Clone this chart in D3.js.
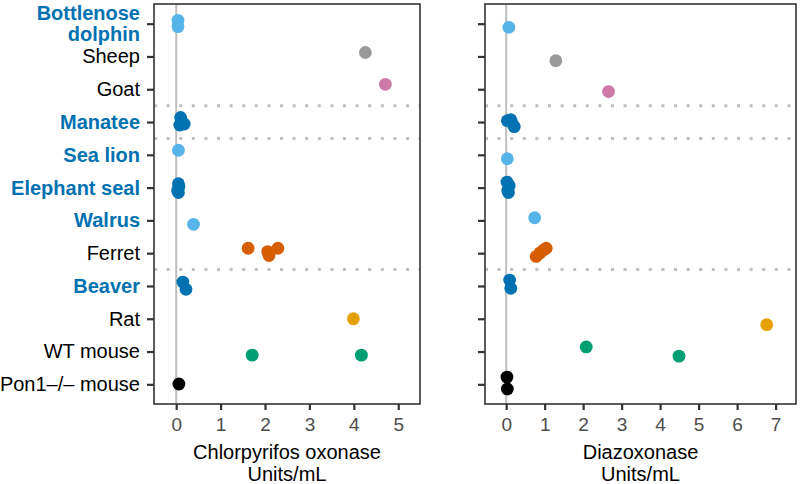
<!DOCTYPE html>
<html><head><meta charset="utf-8">
<script src="https://cdn.jsdelivr.net/npm/d3@7"></script>
<style>body{margin:0;background:#fff}svg{display:block}text{font-family:"Liberation Sans",Arial,Helvetica,sans-serif}</style>
</head><body><svg id="c" width="800" height="484"></svg>
<script>
// categories top to bottom
const species = ["Bottlenose dolphin","Sheep","Goat","Manatee","Sea lion","Elephant seal","Walrus","Ferret","Beaver","Rat","WT mouse","Pon1\u2013/\u2013 mouse"];
const marine = ["Bottlenose dolphin","Manatee","Sea lion","Elephant seal","Walrus","Beaver"];
const speciesColor = ["#56B4E9","#999999","#CC79A7","#0072B2","#56B4E9","#0072B2","#56B4E9","#D55E00","#0072B2","#E69F00","#009E73","#000000"];
// dividers between these category index pairs (after index)
const dividersAfter = [2, 3, 7];
// Chlorpyrifos oxonase: [speciesIndex, value, jitter (category units)]
const cpoData = [
  [0,0.04,-0.10],[0,0.04,0.09],
  [1,4.26,-0.12],
  [2,4.71,-0.15],
  [3,0.10,-0.14],[3,0.12,-0.02],[3,0.08,0.09],[3,0.18,0.06],
  [4,0.05,-0.14],
  [5,0.05,-0.12],[5,0.06,-0.03],[5,0.03,0.09],[5,0.05,0.15],
  [6,0.39,0.12],
  [7,1.62,-0.15],[7,2.06,-0.05],[7,2.09,0.07],[7,2.29,-0.15],
  [8,0.15,-0.12],[8,0.22,0.10],
  [9,3.99,0.0],
  [10,1.71,0.11],[10,4.17,0.11],
  [11,0.06,-0.01]
];
// Diazoxonase
const dzData = [
  [0,0.07,0.11],
  [1,1.29,0.13],
  [2,2.66,0.07],
  [3,0.12,-0.07],[3,0.03,-0.04],[3,0.15,0.02],[3,0.21,0.14],
  [4,0.03,0.12],
  [5,0.02,-0.17],[5,0.08,-0.06],[5,0.04,0.09],[5,0.06,0.15],
  [6,0.74,-0.08],
  [7,0.78,0.10],[7,0.88,-0.01],[7,0.97,-0.10],[7,1.04,-0.15],
  [8,0.09,-0.18],[8,0.12,0.07],
  [9,6.77,0.18],
  [10,2.08,-0.14],[10,4.49,0.14],
  [11,0.02,-0.22],[11,0.03,0.14]
];
const cpoTicks = [0,1,2,3,4,5];
const dzTicks = [0,1,2,3,4,5,6,7];
const panels = [
  {data: cpoData, ticks: cpoTicks, domain: [-0.5, 5.49], x0: 154, x1: 420, title: ["Chlorpyrifos oxonase","Units/mL"], labels: true},
  {data: dzData, ticks: dzTicks, domain: [-0.55, 7.53], x0: 485, x1: 796, title: ["Diazoxonase","Units/mL"], labels: false}
];

const svg = d3.select("#c");
const plotTop = 4, plotBottom = 404;
const fs = 20;
const y = d3.scaleLinear().domain([-0.6, species.length - 0.4]).range([plotTop, plotBottom]);
const gridGray = "#BEBEBE", frame = "#333333";

panels.forEach(p => {
  const x = d3.scaleLinear().domain(p.domain).range([p.x0, p.x1]);
  const g = svg.append("g");
  g.append("line").attr("x1", x(0)).attr("x2", x(0)).attr("y1", plotTop).attr("y2", plotBottom)
    .attr("stroke", gridGray).attr("stroke-width", 2);
  dividersAfter.forEach(i => {
    g.append("line").attr("x1", p.x0).attr("x2", p.x1).attr("y1", y(i + 0.5)).attr("y2", y(i + 0.5))
      .attr("stroke", gridGray).attr("stroke-width", 3).attr("stroke-dasharray", "3,9.6");
  });
  g.selectAll("circle").data(p.data).enter().append("circle")
    .attr("cx", d => x(d[1])).attr("cy", d => y(d[0] + d[2])).attr("r", 6.4)
    .attr("fill", d => speciesColor[d[0]]);
  g.append("rect").attr("x", p.x0).attr("y", plotTop).attr("width", p.x1 - p.x0).attr("height", plotBottom - plotTop)
    .attr("fill", "none").attr("stroke", frame).attr("stroke-width", 1.6);
  const xa = g.append("g").attr("transform", `translate(0,${plotBottom})`)
    .call(d3.axisBottom(x).tickValues(p.ticks).tickSize(6).tickPadding(8).tickFormat(d3.format("d")));
  xa.select(".domain").remove();
  xa.selectAll("line").attr("stroke", frame).attr("stroke-width", 2.2);
  xa.selectAll("text").attr("font-size", 19).attr("fill", "#4D4D4D");
  const ya = g.append("g").attr("transform", `translate(${p.x0},0)`)
    .call(d3.axisLeft(y).tickValues(d3.range(species.length)).tickSize(7).tickPadding(7)
      .tickFormat(i => p.labels ? species[i] : ""));
  ya.select(".domain").remove();
  ya.selectAll("line").attr("stroke", frame).attr("stroke-width", 2.2);
  if (p.labels) {
    ya.selectAll("text").attr("font-size", fs)
      .attr("fill", i => marine.includes(species[i]) ? "#0072B2" : "#000")
      .attr("font-weight", i => marine.includes(species[i]) ? "bold" : "normal");
    ya.selectAll("text").filter(i => species[i] === "Bottlenose dolphin").each(function() {
      const t = d3.select(this); const tx = t.attr("x"); t.text(null);
      t.append("tspan").attr("x", tx).attr("dy", -3.9).text("Bottlenose");
      t.append("tspan").attr("x", tx).attr("dy", 20.6).text("dolphin");
    });
  }
  const cx = (p.x0 + p.x1) / 2;
  g.append("text").attr("x", cx).attr("y", 459).attr("text-anchor", "middle").attr("font-size", fs).text(p.title[0]);
  g.append("text").attr("x", cx).attr("y", 481).attr("text-anchor", "middle").attr("font-size", fs).text(p.title[1]);
});
</script></body></html>
